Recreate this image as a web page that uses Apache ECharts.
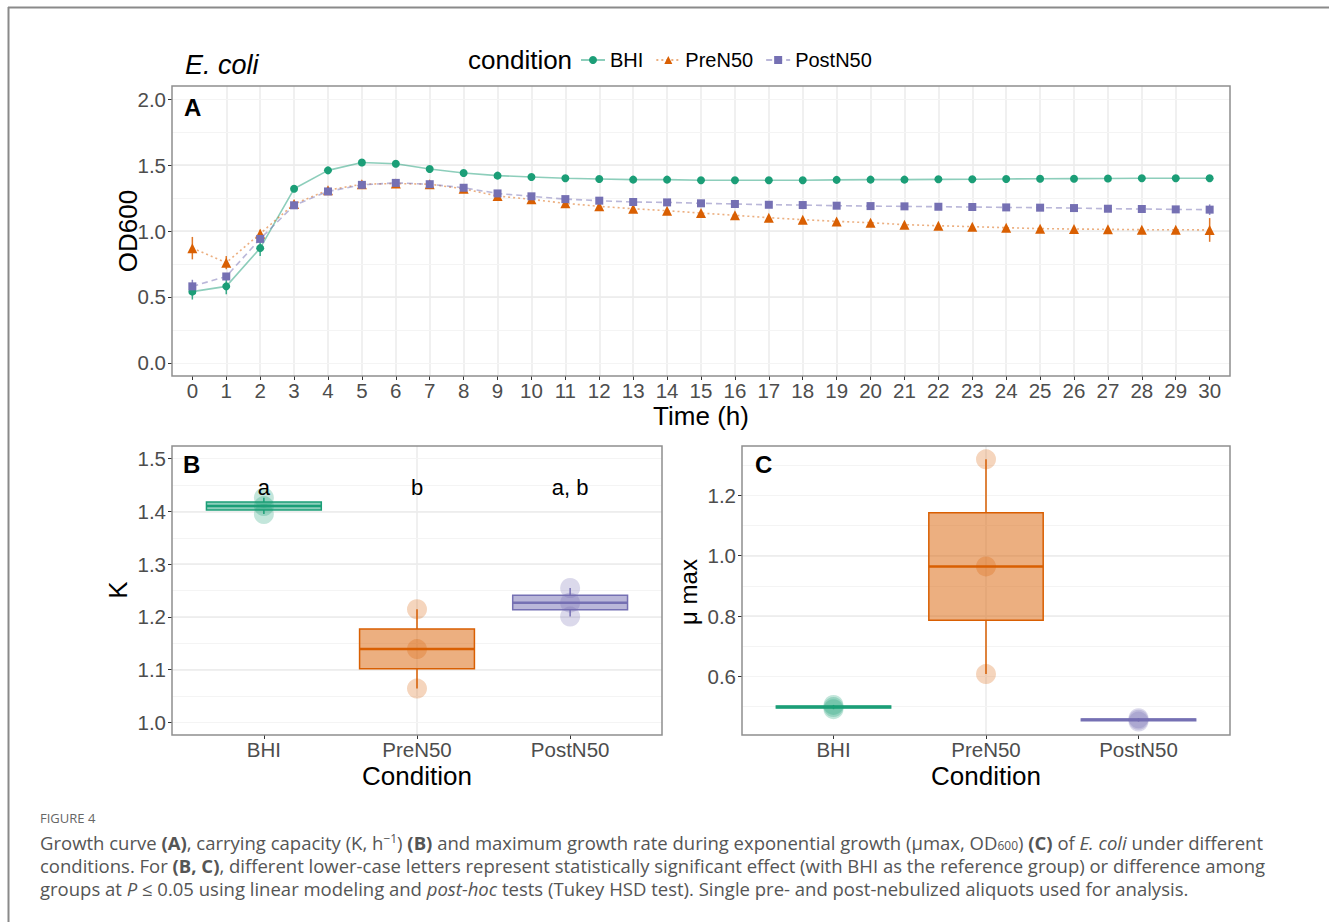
<!DOCTYPE html>
<html><head><meta charset="utf-8">
<script src="https://cdn.jsdelivr.net/npm/echarts@6/dist/echarts.min.js"></script>
<style>html,body{margin:0;padding:0;background:#fff}#c{width:1329px;height:922px}</style>
</head><body><div id="c"></div>
<script>
// ---------- data ----------
const times = [0,1,2,3,4,5,6,7,8,9,10,11,12,13,14,15,16,17,18,19,20,21,22,23,24,25,26,27,28,29,30];
const conditions = ['BHI', 'PreN50', 'PostN50'];
const bhiOD = [0.54,0.58,0.87,1.32,1.46,1.52,1.51,1.47,1.44,1.42,1.41,1.40,1.395,1.39,1.39,1.385,1.385,1.385,1.385,1.388,1.39,1.39,1.392,1.393,1.395,1.396,1.397,1.398,1.40,1.40,1.40];
const preOD = [0.87,0.76,0.98,1.205,1.31,1.355,1.36,1.355,1.32,1.265,1.24,1.21,1.187,1.169,1.154,1.136,1.119,1.101,1.086,1.073,1.063,1.048,1.040,1.033,1.025,1.018,1.015,1.013,1.010,1.010,1.008];
const postOD = [0.58,0.655,0.94,1.195,1.30,1.35,1.365,1.355,1.328,1.285,1.263,1.242,1.230,1.220,1.217,1.210,1.205,1.199,1.197,1.192,1.189,1.187,1.184,1.182,1.179,1.177,1.174,1.169,1.167,1.164,1.162];
const bhiErr = [0.06,0.06,0.06,0.015,0.01,0.01,0.01,0.01,0.01,0.01,0.01,0.01,0.01,0.01,0.01,0.01,0.01,0.01,0.01,0.01,0.01,0.01,0.01,0.01,0.01,0.01,0.01,0.01,0.01,0.01,0.01];
const preErr = [0.085,0.05,0.03,0.02,0.02,0.015,0.015,0.015,0.015,0.015,0.015,0.015,0.015,0.015,0.015,0.015,0.015,0.015,0.015,0.015,0.015,0.015,0.015,0.015,0.015,0.015,0.015,0.015,0.015,0.02,0.09];
const postErr = [0.05,0.02,0.03,0.015,0.01,0.01,0.01,0.01,0.01,0.01,0.01,0.01,0.01,0.01,0.01,0.01,0.01,0.01,0.01,0.01,0.01,0.01,0.01,0.01,0.01,0.01,0.01,0.01,0.01,0.015,0.04];
const odTicks = [0, 0.5, 1.0, 1.5, 2.0];
const condTicks = [0, 1, 2];
const kTicks = [1.0, 1.1, 1.2, 1.3, 1.4, 1.5];
const muTicks = [0.6, 0.8, 1.0, 1.2];
// K (panel B): raw replicate values and box stats [min, q1, median, q3, max]
const kPoints = [[1.395, 1.410, 1.426], [1.064, 1.139, 1.2145], [1.2005, 1.227, 1.2547]];
const kBox = [[1.395, 1.4025, 1.410, 1.418, 1.426], [1.064, 1.1015, 1.139, 1.177, 1.2145], [1.2005, 1.2137, 1.227, 1.2408, 1.2547]];
const kLetters = ['a', 'b', 'a, b'];
const kLetterY = 1.446;
// mu max (panel C)
const muPoints = [[0.492, 0.499, 0.506], [0.608, 0.9645, 1.319], [0.451, 0.457, 0.462]];
const muBox = [[0.492, 0.4955, 0.499, 0.5025, 0.506], [0.608, 0.786, 0.9645, 1.142, 1.319], [0.451, 0.454, 0.457, 0.4595, 0.462]];

// ---------- style ----------
const FONT = '"Liberation Sans", Arial, Helvetica, sans-serif';
const COLORS = ['#1B9E77', '#D95F02', '#7570B3'];
const RGB = [[27,158,119],[217,95,2],[117,112,179]];
const rgba = (i, a) => `rgba(${RGB[i][0]},${RGB[i][1]},${RGB[i][2]},${a})`;
const G = {
  A: {left: 172, top: 86, width: 1058, height: 290},
  B: {left: 172, top: 446, width: 490, height: 289},
  C: {left: 742, top: 446, width: 488, height: 289}
};
const BOX_HALF = 0.375;
const TICK_FS = 20.5;

function xAxisCfg(gridIndex, min, max, ticks, fmt) {
  return {
    type: 'value', gridIndex, min, max, minInterval: 1, maxInterval: 1,
    axisLine: {show: false, onZero: false},
    axisTick: {show: true, length: 4, lineStyle: {color: '#333', width: 1}, customValues: ticks},
    axisLabel: {customValues: ticks, formatter: fmt, color: '#4d4d4d', fontSize: TICK_FS, margin: 4, lineHeight: 20, fontFamily: FONT},
    splitLine: {show: true, lineStyle: {color: '#ebebeb', width: 1.5}, showMinLine: false, showMaxLine: false}
  };
}
function yAxisCfg(gridIndex, min, max, step, ticks) {
  return {
    type: 'value', gridIndex, min, max, minInterval: step, maxInterval: step, z: 2,
    axisLine: {show: false, onZero: false},
    axisTick: {show: true, length: 4, lineStyle: {color: '#333', width: 1}, customValues: ticks},
    axisLabel: {customValues: ticks, formatter: v => v.toFixed(1), color: '#4d4d4d', fontSize: TICK_FS, margin: 6, fontFamily: FONT},
    splitLine: {show: true, lineStyle: {color: '#ebebeb', width: 1.5}, showMinLine: false, showMaxLine: false}
  };
}
function yMinorCfg(gridIndex, min, max, step) {
  return {
    type: 'value', gridIndex, min, max, minInterval: step, maxInterval: step, z: 1, position: 'left',
    axisLine: {show: false, onZero: false}, axisTick: {show: false}, axisLabel: {show: false},
    splitLine: {show: true, lineStyle: {color: '#f4f4f4', width: 1}, showMinLine: false, showMaxLine: false}
  };
}

function errRender(ci) {
  return function (params, api) {
    const x = api.value(0), y = api.value(1), e = api.value(2);
    const p1 = api.coord([x, y - e]), p2 = api.coord([x, y + e]);
    return {type: 'line', shape: {x1: p1[0], y1: p1[1], x2: p2[0], y2: p2[1]}, style: {stroke: rgba(ci, 0.85), lineWidth: 1.5}};
  };
}
function boxRender(params, api) {
  const i = params.dataIndex;
  const x = api.value(0);
  const mn = api.value(1), q1 = api.value(2), md = api.value(3), q3 = api.value(4), mx = api.value(5);
  const tl = api.coord([x - BOX_HALF, q3]), br = api.coord([x + BOX_HALF, q1]);
  const m1 = api.coord([x - BOX_HALF, md]), m2 = api.coord([x + BOX_HALF, md]);
  const wt = api.coord([x, mx]), w3 = api.coord([x, q3]), w1 = api.coord([x, q1]), wb = api.coord([x, mn]);
  const c = COLORS[i];
  return {type: 'group', children: [
    {type: 'line', shape: {x1: wt[0], y1: wt[1], x2: w3[0], y2: w3[1]}, style: {stroke: c, lineWidth: 1.5}},
    {type: 'line', shape: {x1: w1[0], y1: w1[1], x2: wb[0], y2: wb[1]}, style: {stroke: c, lineWidth: 1.5}},
    {type: 'rect', shape: {x: tl[0], y: tl[1], width: br[0] - tl[0], height: br[1] - tl[1]}, style: {fill: rgba(i, 0.5), stroke: c, lineWidth: 1.5}},
    {type: 'line', shape: {x1: m1[0], y1: m1[1], x2: m2[0], y2: m2[1]}, style: {stroke: c, lineWidth: 2.5}}
  ]};
}
function letterRender(params, api) {
  const p = api.coord([api.value(0), api.value(1)]);
  return {type: 'text', x: p[0], y: p[1], style: {text: kLetters[params.dataIndex], fill: '#000', fontSize: 22, fontFamily: FONT, align: 'center', verticalAlign: 'middle'}};
}
const pointData = pts => pts.flatMap((arr, i) => arr.map(v => ({value: [i, v], itemStyle: {color: rgba(i, 0.33)}})));

const odSets = [bhiOD, preOD, postOD];
const errSets = [bhiErr, preErr, postErr];
const symbols = ['circle', 'triangle', 'rect'];
const symSizes = [8, 10, 8];
const lineTypes = ['solid', [2, 3], [6, 4]];

const series = [];
odSets.forEach((vals, ci) => {
  series.push({type: 'custom', xAxisIndex: 0, yAxisIndex: 0, renderItem: errRender(ci), z: 2,
    data: times.map((t, k) => [t, vals[k], errSets[ci][k]]), encode: {x: 0, y: 1}, silent: true});
});
odSets.forEach((vals, ci) => {
  series.push({type: 'line', name: conditions[ci], xAxisIndex: 0, yAxisIndex: 0, z: 3,
    data: times.map((t, k) => [t, vals[k]]), symbol: symbols[ci], symbolSize: symSizes[ci], showAllSymbol: true,
    itemStyle: {color: COLORS[ci]}, lineStyle: {color: rgba(ci, 0.5), width: 1.6, type: lineTypes[ci]}});
});
series.push({type: 'custom', xAxisIndex: 1, yAxisIndex: 2, renderItem: boxRender, z: 2,
  data: conditions.map((c, i) => [i].concat(kBox[i])), encode: {x: 0, y: [1, 2, 3, 4, 5]}});
series.push({type: 'scatter', xAxisIndex: 1, yAxisIndex: 2, symbolSize: 20, z: 3, data: pointData(kPoints)});
series.push({type: 'custom', xAxisIndex: 1, yAxisIndex: 2, renderItem: letterRender, z: 4,
  data: conditions.map((c, i) => [i, kLetterY]), encode: {x: 0, y: 1}});
series.push({type: 'custom', xAxisIndex: 2, yAxisIndex: 4, renderItem: boxRender, z: 2,
  data: conditions.map((c, i) => [i].concat(muBox[i])), encode: {x: 0, y: [1, 2, 3, 4, 5]}});
series.push({type: 'scatter', xAxisIndex: 2, yAxisIndex: 4, symbolSize: 20, z: 3, data: pointData(muPoints)});

const condFmt = v => conditions[Math.round(v)];
const txt = (text, x, y, o) => Object.assign({type: 'text', x, y, z: 110,
  style: Object.assign({text, fill: '#000', fontSize: 26, fontFamily: FONT, align: 'center', verticalAlign: 'middle'}, o || {})});
const frame = g => ({type: 'rect', z: 100, shape: {x: g.left, y: g.top, width: g.width, height: g.height},
  style: {fill: 'none', stroke: '#8f8f8f', lineWidth: 1.5}});

const CAP = '"Open Sans", "Lato", sans-serif';
const CFS = 18.5;
const capRich = {
  n: {fontSize: CFS, fontFamily: CAP, color: '#555'},
  b: {fontSize: CFS, fontFamily: CAP, fontWeight: 'bold', color: '#555'},
  i: {fontSize: CFS, fontFamily: CAP, fontStyle: 'italic', color: '#555'},
  sup: {fontSize: 12, fontFamily: CAP, color: '#555', verticalAlign: 'top'},
  sub: {fontSize: 12, fontFamily: CAP, color: '#555', verticalAlign: 'bottom'}
};
const capLine = (text, y) => ({type: 'text', x: 40, y, z: 110,
  style: {text, rich: capRich, fontSize: CFS, fontFamily: CAP, fill: '#555', align: 'left', verticalAlign: 'middle', lineHeight: 19}});

const graphics = [
  {type: 'line', z: 100, shape: {x1: 8, y1: 7.5, x2: 1329, y2: 7.5}, style: {stroke: '#8a8a8a', lineWidth: 2}},
  {type: 'line', z: 100, shape: {x1: 8.5, y1: 7, x2: 8.5, y2: 922}, style: {stroke: '#8a8a8a', lineWidth: 2}},
  frame(G.A), frame(G.B), frame(G.C),
  txt('E. coli', 185, 65, {fontSize: 27, fontStyle: 'italic', align: 'left'}),
  txt('condition', 468, 60, {fontSize: 26, align: 'left'}),
  txt('A', 184, 107, {fontSize: 24, fontWeight: 'bold', align: 'left'}),
  txt('B', 183, 464, {fontSize: 24, fontWeight: 'bold', align: 'left'}),
  txt('C', 755, 464, {fontSize: 24, fontWeight: 'bold', align: 'left'}),
  Object.assign(txt('OD600', 128, 231), {rotation: Math.PI / 2}),
  txt('Time (h)', 701, 416),
  Object.assign(txt('K', 118, 590), {rotation: Math.PI / 2}),
  txt('Condition', 417, 776),
  txt('Condition', 986, 776),
  Object.assign(txt('μ max', 688, 592, {fontSize: 24}), {rotation: Math.PI / 2}),
  {type: 'text', x: 40, y: 818, z: 110, style: {text: 'FIGURE 4', fill: '#666', fontSize: 13, fontFamily: CAP, align: 'left', verticalAlign: 'middle'}},
  capLine('{n|Growth curve }{b|(A)}{n|, carrying capacity (K, h}{sup|−1}{n|) }{b|(B)}{n| and maximum growth rate during exponential growth (μmax, OD}{sub|600}{n|) }{b|(C)}{n| of }{i|E. coli}{n| under different}', 842),
  capLine('{n|conditions. For }{b|(B, C)}{n|, different lower-case letters represent statistically significant effect (with BHI as the reference group) or difference among}', 865),
  capLine('{n|groups at }{i|P}{n| ≤ 0.05 using linear modeling and }{i|post-hoc}{n| tests (Tukey HSD test). Single pre- and post-nebulized aliquots used for analysis.}', 888)
];

const option = {
  animation: false,
  backgroundColor: '#fff',
  grid: [
    Object.assign({show: true, backgroundColor: '#fff', borderWidth: 0}, G.A),
    Object.assign({show: true, backgroundColor: '#fff', borderWidth: 0}, G.B),
    Object.assign({show: true, backgroundColor: '#fff', borderWidth: 0}, G.C)
  ],
  xAxis: [
    xAxisCfg(0, -0.6, 30.6, times, v => String(Math.round(v))),
    xAxisCfg(1, -0.6, 2.6, condTicks, condFmt),
    xAxisCfg(2, -0.6, 2.6, condTicks, condFmt)
  ],
  yAxis: [
    yAxisCfg(0, -0.1, 2.1, 0.5, odTicks),
    yMinorCfg(0, -0.1, 2.1, 0.25),
    yAxisCfg(1, 0.976, 1.524, 0.1, kTicks),
    yMinorCfg(1, 0.976, 1.524, 0.05),
    yAxisCfg(2, 0.4065, 1.363, 0.2, muTicks),
    yMinorCfg(2, 0.4065, 1.363, 0.1)
  ],
  legend: {data: conditions, left: 580, top: 50, itemWidth: 24, itemHeight: 10, itemGap: 12, padding: 0,
    selectedMode: false, textStyle: {fontSize: 20, fontFamily: FONT, color: '#000'}},
  graphic: graphics,
  series
};
const chart = echarts.init(document.getElementById('c'), null, {renderer: 'svg'});
chart.setOption(option);
</script></body></html>
